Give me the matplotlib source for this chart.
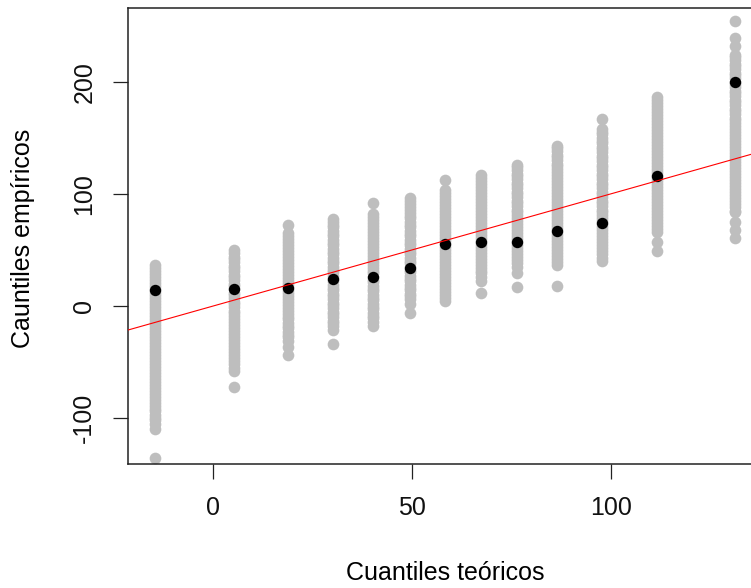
import numpy as np
import matplotlib
matplotlib.use('Agg')
import matplotlib.pyplot as plt

plt.rcParams['font.family'] = ['Liberation Sans', 'DejaVu Sans']

# theoretical quantile positions (x) and observed empirical quantiles (black dots)
teo = [-14.5, 5.3, 18.8, 30.2, 40.2, 49.5, 58.3, 67.2, 76.4, 86.4, 97.7, 111.6, 131.2]
emp = [14.0, 15.4, 15.8, 24.1, 25.6, 34.1, 55.3, 56.8, 56.8, 66.8, 74.0, 116.0, 200.0]

# simulated quantiles at every theoretical position (grey stacks), read top to bottom
sim = [
    [36.5, 34, 31, 28.5, 26, 23, 20.5, 18, 15, 12.5, 10, 7, 4.5, 2, -1, -3.5, -6, -9, -11.5,
     -14, -17, -19.5, -22, -25, -27.5, -30, -33, -35.5, -38, -41, -43.5, -46, -49, -51.5, -54,
     -57, -59.5, -62, -65, -67.5, -70, -73, -75.5, -78, -81, -83.5, -86, -89, -91.5, -94, -97,
     -99.5, -102, -105, -110, -135.7],
    [49.5, 47, 44, 41.5, 39, 36, 33.5, 31, 28, 25.5, 23, 20, 17.5, 15, 12, 9.5, 7, 4, 1.5, -1,
     -4, -6.5, -9, -12, -14.5, -17, -20, -22.5, -25, -28, -30.5, -33, -36, -38.5, -41, -44,
     -46.5, -49, -52, -55, -58, -72],
    [71.9, 65, 62.5, 60, 57, 54.5, 52, 49, 46.5, 44, 41, 38.5, 36, 33, 30.5, 28, 25, 22.5, 20,
     17, 14.5, 12, 9, 6.5, 4, 1, -1.5, -4, -7, -9.5, -12, -15, -17.5, -20, -23, -25.5, -28,
     -31, -36.3, -44.1],
    [77.7, 75, 72.5, 70, 67, 64.5, 62, 59, 56.5, 54, 51, 48.5, 46, 43, 40.5, 38, 35, 32.5, 30,
     27, 24.5, 22, 19, 16.5, 14, 11, 8.5, 6, 3, 0.5, -2, -5, -7.5, -10, -13, -15.5, -18, -21,
     -34.1],
    [91.8, 82, 79.5, 77, 74, 71.5, 69, 66, 63.5, 61, 58, 55.5, 53, 50, 47.5, 45, 42, 39.5, 37,
     34, 31.5, 29, 26, 23.5, 21, 18, 15.5, 13, 10, 7.5, 5, 2, -0.5, -3, -6, -8.5, -11, -14,
     -17.4],
    [96.4, 94, 91, 88.5, 86, 83, 80.5, 78, 75, 72.5, 70, 67, 64.5, 62, 59, 56.5, 54, 51, 48.5,
     46, 43, 40.5, 38, 35, 32.5, 30, 27, 24.5, 22, 19, 16.5, 14, 11, 8.5, 6, 2, -6.5],
    [112.5, 103, 100.5, 98, 95, 92.5, 90, 87, 84.5, 82, 79, 76.5, 74, 71, 68.5, 66, 63, 60.5,
     58, 55, 52.5, 50, 47, 44.5, 42, 39, 36.5, 34, 31, 28.5, 26, 23, 20.5, 18, 15, 12.5, 10, 7,
     4.9],
    [116.9, 114, 111.5, 109, 106, 103.5, 101, 98, 95.5, 93, 90, 87.5, 85, 82, 79.5, 77, 74,
     71.5, 69, 66, 63.5, 61, 58, 55.5, 53, 50, 47.5, 45, 42, 39.5, 37, 34, 31.5, 29, 26, 22,
     11.3],
    [126, 123.5, 121, 118, 115.5, 113, 110, 107.5, 105, 102, 99.5, 97, 94, 91.5, 89, 86, 83.5,
     81, 78, 75.5, 73, 70, 67.5, 65, 62, 59.5, 57, 54, 51.5, 49, 46, 43.5, 41, 38, 35, 29.6,
     17.2],
    [143, 140.5, 138, 135, 132.5, 130, 127, 124.5, 122, 119, 116.5, 114, 111, 108.5, 106, 103,
     100.5, 98, 95, 92.5, 90, 87, 84.5, 82, 79, 76.5, 74, 71, 68.5, 66, 63, 60.5, 58, 55, 52.5,
     50, 47, 44.5, 42, 39, 36.4, 18.1],
    [166.8, 158, 155.5, 153, 150, 147.5, 145, 142, 139.5, 137, 134, 131.5, 129, 126, 123.5,
     121, 118, 115.5, 113, 110, 107.5, 105, 102, 99.5, 97, 94, 91.5, 89, 86, 83.5, 81, 78,
     75.5, 73, 70, 67.5, 65, 62, 59.5, 57, 54, 51.5, 49, 46, 43, 39.9],
    [186.1, 183.5, 181, 178, 175.5, 173, 170, 167.5, 165, 162, 159.5, 157, 154, 151.5, 149,
     146, 143.5, 141, 138, 135.5, 133, 130, 127.5, 125, 122, 119.5, 117, 114, 111.5, 109, 106,
     103.5, 101, 98, 95.5, 93, 90, 87.5, 85, 82, 79.5, 77, 74, 71.5, 69, 66, 57, 48.8],
    [254.3, 239, 231.5, 224, 221.5, 219, 216, 213.5, 211, 208, 205.5, 203, 200, 197.5, 195,
     192, 189.5, 187, 184, 181.5, 179, 176, 173.5, 171, 168, 165.5, 163, 160, 157.5, 155, 152,
     149.5, 147, 144, 141.5, 139, 136, 133.5, 131, 128, 125.5, 123, 120, 117.5, 115, 112,
     109.5, 107, 104, 101.5, 99, 96, 93.5, 91, 88, 85, 84, 75.1, 67.7, 60.5],
]

xticks = [0, 50, 100]
yticks = [-100, 0, 100, 200]

W, H = 751, 588
fig = plt.figure(figsize=(W / 100, H / 100), dpi=100)
# plot region runs past the right edge of the picture, as in the original
ax = fig.add_axes([128 / W, 1 - 464 / H, (810 - 128) / W, (464 - 8) / H])

for xv, vals in zip(teo, sim):
    ax.plot([xv] * len(vals), vals, 'o', color='#BEBEBE', markersize=8.4,
            markeredgewidth=0, zorder=2)
ax.plot(teo, emp, 'o', color='black', markersize=8.2, markeredgewidth=0, zorder=3)
ax.axline((0, 0), slope=1, color='red', lw=0.8, zorder=4)

ax.set_xlim(-21.4, 150)
ax.set_ylim(-140.8, 265.6)
ax.set_xticks(xticks)
ax.set_yticks(yticks)
ax.set_yticklabels([str(t) for t in yticks], rotation=90, va='center')
ax.tick_params(axis='both', direction='out', length=10.8, width=0.9, labelsize=18,
               color='#222222', labelcolor='#111111')
ax.tick_params(axis='x', pad=12)
ax.tick_params(axis='y', pad=12)
for s in ax.spines.values():
    s.set_linewidth(1.1)
    s.set_color('#222222')

fig.text(445 / W, 1 - 573 / H, 'Cuantiles teóricos', ha='center', va='center', fontsize=18)
fig.text(23 / W, 1 - 238 / H, 'Cauntiles empíricos', ha='center', va='center',
         rotation=90, fontsize=18)

fig.savefig('out.png', dpi=100)
